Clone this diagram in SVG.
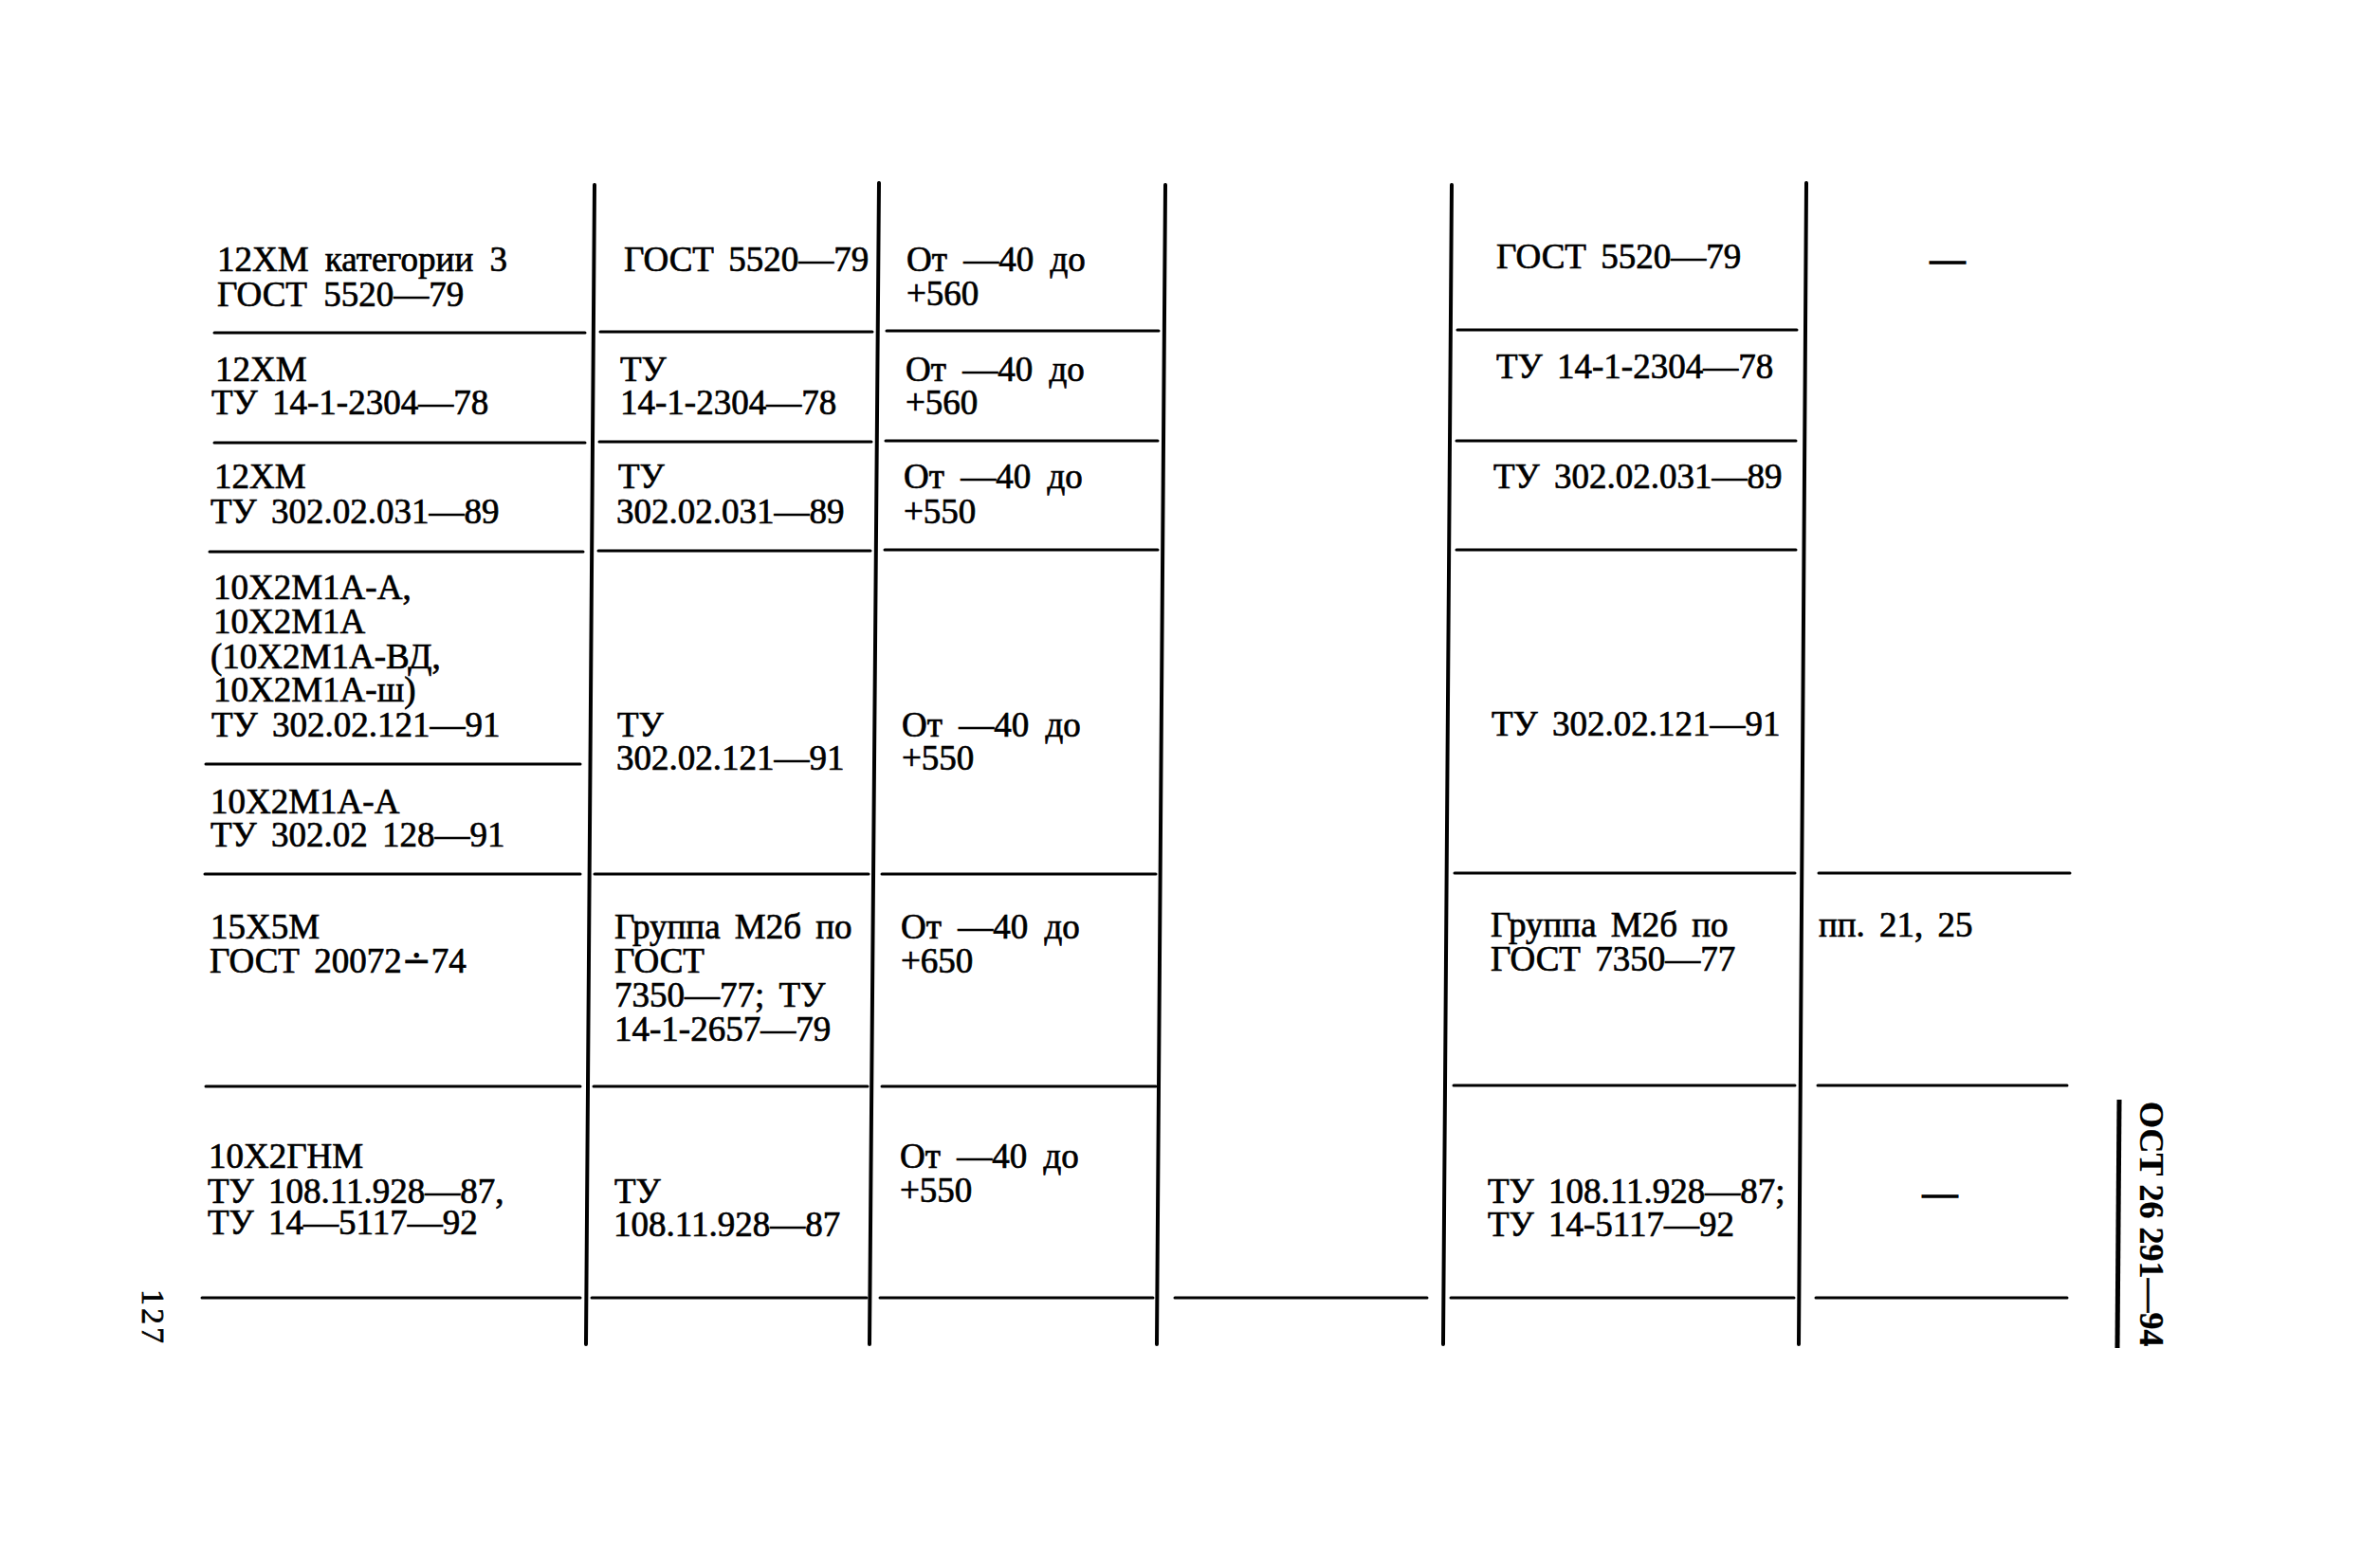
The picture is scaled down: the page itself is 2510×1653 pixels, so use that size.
<svg xmlns="http://www.w3.org/2000/svg" width="2510" height="1653" viewBox="0 0 2510 1653">
<style>
  text { font-family: "Liberation Serif", "DejaVu Serif", serif; font-size: 37px; fill: #000; stroke: #000; stroke-width: 0.7; }
  .dash { text-anchor: middle; stroke-width: 1.5; }
  .side { font-weight: bold; font-size: 36px; stroke-width: 0.3; }
  .pg { font-size: 34px; letter-spacing: 3px; }
  .h { stroke: #000; stroke-width: 3; stroke-linecap: round; fill: none; }
  .v { stroke: #000; stroke-width: 4; stroke-linecap: round; fill: none; }
</style>
<rect width="2510" height="1653" fill="#fff"/>

<g id="grid">
  <g id="verticals">
    <line class="v" x1="627" y1="195" x2="618" y2="1418"/>
    <line class="v" x1="927" y1="193" x2="917" y2="1418"/>
    <line class="v" x1="1229" y1="195" x2="1220" y2="1418"/>
    <line class="v" x1="1531" y1="195" x2="1522" y2="1418"/>
    <line class="v" x1="1905" y1="193" x2="1897" y2="1418"/>
  </g>
  <g id="rules-col1">
    <line class="h" x1="226" y1="351" x2="617" y2="351"/>
    <line class="h" x1="226" y1="467" x2="617" y2="467"/>
    <line class="h" x1="221" y1="582" x2="615" y2="582"/>
    <line class="h" x1="217" y1="806" x2="612" y2="806"/>
    <line class="h" x1="216" y1="922" x2="612" y2="922"/>
    <line class="h" x1="217" y1="1146" x2="612" y2="1146"/>
    <line class="h" x1="213" y1="1369" x2="612" y2="1369"/>
  </g>
  <g id="rules-col2">
    <line class="h" x1="633" y1="350" x2="920" y2="350"/>
    <line class="h" x1="632" y1="466" x2="919" y2="466"/>
    <line class="h" x1="631" y1="581" x2="918" y2="581"/>
    <line class="h" x1="627" y1="922" x2="916" y2="922"/>
    <line class="h" x1="626" y1="1146" x2="915" y2="1146"/>
    <line class="h" x1="624" y1="1369" x2="914" y2="1369"/>
  </g>
  <g id="rules-col3">
    <line class="h" x1="935" y1="349" x2="1222" y2="349"/>
    <line class="h" x1="934" y1="465" x2="1221" y2="465"/>
    <line class="h" x1="933" y1="580" x2="1221" y2="580"/>
    <line class="h" x1="930" y1="922" x2="1219" y2="922"/>
    <line class="h" x1="930" y1="1146" x2="1219" y2="1146"/>
    <line class="h" x1="928" y1="1369" x2="1216" y2="1369"/>
  </g>
  <g id="rules-col4">
    <line class="h" x1="1239" y1="1369" x2="1505" y2="1369"/>
  </g>
  <g id="rules-col5">
    <line class="h" x1="1537" y1="348" x2="1895" y2="348"/>
    <line class="h" x1="1536" y1="465" x2="1894" y2="465"/>
    <line class="h" x1="1536" y1="580" x2="1894" y2="580"/>
    <line class="h" x1="1534" y1="921" x2="1893" y2="921"/>
    <line class="h" x1="1533" y1="1145" x2="1893" y2="1145"/>
    <line class="h" x1="1530" y1="1369" x2="1892" y2="1369"/>
  </g>
  <g id="rules-col6">
    <line class="h" x1="1918" y1="921" x2="2183" y2="921"/>
    <line class="h" x1="1917" y1="1145" x2="2180" y2="1145"/>
    <line class="h" x1="1915" y1="1369" x2="2180" y2="1369"/>
  </g>
  <line id="side-rule" x1="2235" y1="1160" x2="2233" y2="1422" stroke="#000" stroke-width="5"/>
</g>

<g id="col1">
  <g id="c1r1">
    <text x="229" y="286" word-spacing="8">12ХМ категории 3</text>
    <text x="229" y="323" word-spacing="8">ГОСТ 5520—79</text>
  </g>
  <g id="c1r2">
    <text x="227" y="402">12ХМ</text>
    <text x="223" y="437" word-spacing="6">ТУ 14-1-2304—78</text>
  </g>
  <g id="c1r3">
    <text x="226" y="515">12ХМ</text>
    <text x="222" y="552" word-spacing="6">ТУ 302.02.031—89</text>
  </g>
  <g id="c1r4a">
    <text x="225" y="632">10Х2М1А-А,</text>
    <text x="225" y="668">10Х2М1А</text>
    <text x="222" y="705">(10Х2М1А-ВД,</text>
    <text x="225" y="740">10Х2М1А-ш)</text>
    <text x="223" y="777" word-spacing="6">ТУ 302.02.121—91</text>
  </g>
  <g id="c1r4b">
    <text x="222" y="858">10Х2М1А-А</text>
    <text x="222" y="893" word-spacing="6">ТУ 302.02 128—91</text>
  </g>
  <g id="c1r5">
    <text x="222" y="990">15Х5М</text>
    <text x="221" y="1026" word-spacing="6">ГОСТ 20072∸74</text>
  </g>
  <g id="c1r6">
    <text x="220" y="1232">10Х2ГНМ</text>
    <text x="219" y="1269" word-spacing="6">ТУ 108.11.928—87,</text>
    <text x="219" y="1302" word-spacing="6">ТУ 14—5117—92</text>
  </g>
</g>

<g id="col2">
  <g id="c2r1"><text x="658" y="286" word-spacing="6">ГОСТ 5520—79</text></g>
  <g id="c2r2"><text x="654" y="402">ТУ</text><text x="654" y="437">14-1-2304—78</text></g>
  <g id="c2r3"><text x="652" y="515">ТУ</text><text x="650" y="552">302.02.031—89</text></g>
  <g id="c2r4"><text x="651" y="777">ТУ</text><text x="650" y="812">302.02.121—91</text></g>
  <g id="c2r5">
    <text x="648" y="990" word-spacing="6">Группа М2б по</text>
    <text x="648" y="1026">ГОСТ</text>
    <text x="648" y="1062" word-spacing="6">7350—77; ТУ</text>
    <text x="648" y="1098">14-1-2657—79</text>
  </g>
  <g id="c2r6"><text x="648" y="1269">ТУ</text><text x="647" y="1304">108.11.928—87</text></g>
</g>

<g id="col3">
  <g id="c3r1"><text x="956" y="286" word-spacing="8">От —40 до</text><text x="956" y="322">+560</text></g>
  <g id="c3r2"><text x="955" y="402" word-spacing="8">От —40 до</text><text x="955" y="437">+560</text></g>
  <g id="c3r3"><text x="953" y="515" word-spacing="8">От —40 до</text><text x="953" y="552">+550</text></g>
  <g id="c3r4"><text x="951" y="777" word-spacing="8">От —40 до</text><text x="951" y="812">+550</text></g>
  <g id="c3r5"><text x="950" y="990" word-spacing="8">От —40 до</text><text x="950" y="1026">+650</text></g>
  <g id="c3r6"><text x="949" y="1232" word-spacing="8">От —40 до</text><text x="949" y="1268">+550</text></g>
</g>

<g id="col5">
  <g id="c5r1"><text x="1578" y="283" word-spacing="6">ГОСТ 5520—79</text></g>
  <g id="c5r2"><text x="1578" y="399" word-spacing="6">ТУ 14-1-2304—78</text></g>
  <g id="c5r3"><text x="1575" y="515" word-spacing="6">ТУ 302.02.031—89</text></g>
  <g id="c5r4"><text x="1573" y="776" word-spacing="6">ТУ 302.02.121—91</text></g>
  <g id="c5r5">
    <text x="1572" y="988" word-spacing="6">Группа М2б по</text>
    <text x="1572" y="1024" word-spacing="6">ГОСТ 7350—77</text>
  </g>
  <g id="c5r6">
    <text x="1569" y="1269" word-spacing="6">ТУ 108.11.928—87;</text>
    <text x="1569" y="1304" word-spacing="6">ТУ 14-5117—92</text>
  </g>
</g>

<g id="col6">
  <g id="c6r1"><text class="dash" x="2054" y="286">—</text></g>
  <g id="c6r5"><text x="1918" y="988" word-spacing="6">пп. 21, 25</text></g>
  <g id="c6r6"><text class="dash" x="2046" y="1271">—</text></g>
</g>

<g id="side-title">
  <text class="side" transform="translate(2257,1162) rotate(90)">ОСТ 26 291—94</text>
</g>
<g id="page-number">
  <text class="pg" transform="translate(150,1360) rotate(90)">127</text>
</g>
</svg>
